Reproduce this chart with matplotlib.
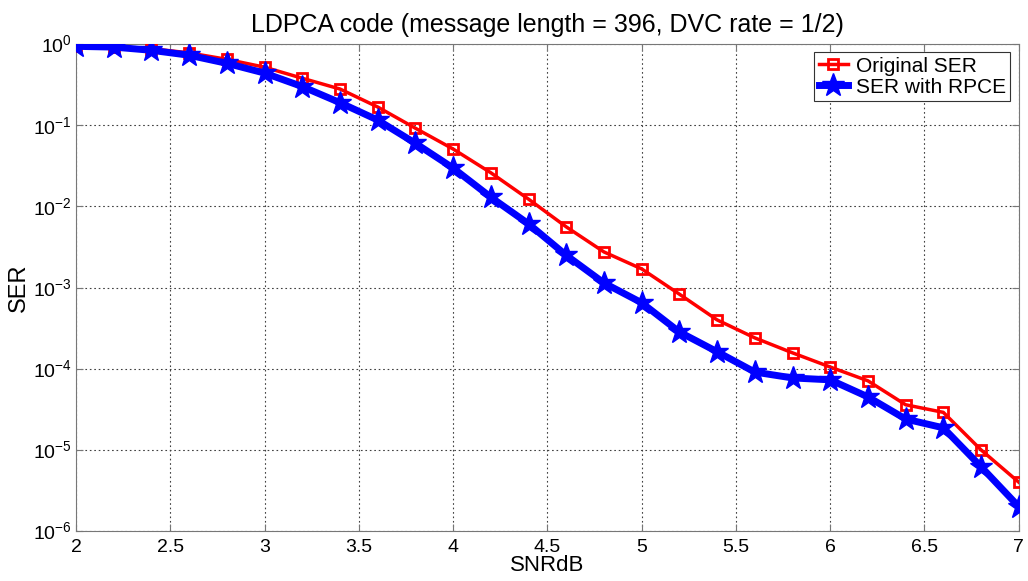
import matplotlib
matplotlib.use('Agg')
import matplotlib.pyplot as plt
from matplotlib.ticker import FixedLocator, NullLocator

snr_db = [2.0, 2.2, 2.4, 2.6, 2.8, 3.0, 3.2, 3.4, 3.6, 3.8, 4.0, 4.2, 4.4,
          4.6, 4.8, 5.0, 5.2, 5.4, 5.6, 5.8, 6.0, 6.2, 6.4, 6.6, 6.8, 7.0]
ser_original = [0.95, 0.93, 0.88, 0.78, 0.65, 0.52, 0.38, 0.28, 0.168, 0.092,
                0.051, 0.026, 0.0123, 0.0056, 0.00275, 0.0017, 0.00083, 0.0004,
                0.00024, 0.000157, 0.000105, 7.1e-5, 3.6e-5, 2.9e-5, 1.0e-5, 4.0e-6]
ser_rpce = [0.94, 0.92, 0.84, 0.73, 0.58, 0.44, 0.30, 0.19, 0.116, 0.060,
            0.0297, 0.013, 0.0061, 0.0025, 0.00114, 0.00065, 0.000284, 0.000162,
            9.1e-5, 7.7e-5, 7.3e-5, 4.5e-5, 2.4e-5, 1.87e-5, 6.2e-6, 2.0e-6]
x_ticks = [2, 2.5, 3, 3.5, 4, 4.5, 5, 5.5, 6, 6.5, 7]
x_tick_labels = ['2', '2.5', '3', '3.5', '4', '4.5', '5', '5.5', '6', '6.5', '7']
y_ticks = [1e-6, 1e-5, 1e-4, 1e-3, 1e-2, 1e-1, 1e0]
y_tick_labels = ['10$^{\\mathregular{-6}}$', '10$^{\\mathregular{-5}}$',
                 '10$^{\\mathregular{-4}}$', '10$^{\\mathregular{-3}}$',
                 '10$^{\\mathregular{-2}}$', '10$^{\\mathregular{-1}}$',
                 '10$^{\\mathregular{0}}$']

plt.rcParams['font.family'] = ['Liberation Sans', 'DejaVu Sans']
plt.rcParams['mathtext.fontset'] = 'custom'
plt.rcParams['mathtext.rm'] = 'Liberation Sans'

fig = plt.figure(figsize=(10.28, 5.81), dpi=100)
ax = fig.add_axes([0.074, 0.086, 0.917, 0.838])

ax.semilogy(snr_db, ser_original, color='#ff0000', linewidth=2.5, marker='s',
            markersize=7, markerfacecolor='none', markeredgewidth=2,
            label='Original SER', zorder=3)
ax.semilogy(snr_db, ser_rpce, color='#0000ff', linewidth=5, marker='*',
            markersize=17, label='SER with RPCE', zorder=4)

ax.set_xlim(2, 7)
ax.set_ylim(1e-6, 1)
ax.xaxis.set_major_locator(FixedLocator(x_ticks))
ax.set_xticklabels(x_tick_labels)
ax.yaxis.set_major_locator(FixedLocator(y_ticks))
ax.yaxis.set_minor_locator(NullLocator())
ax.set_yticklabels(y_tick_labels)
ax.tick_params(direction='in', labelsize=14, length=5, top=True, right=True,
               color='#777777')
ax.tick_params(axis='x', pad=6)
ax.tick_params(axis='y', pad=3)

ax.grid(True, which='major', linestyle=(0, (1.5, 2.5)), color='#404040', linewidth=0.8)
for spine in ax.spines.values():
    spine.set_color('#777777')

ax.set_title('LDPCA code (message length = 396, DVC rate = 1/2)', fontsize=18, pad=9)
ax.set_xlabel('SNRdB', fontsize=16, labelpad=-1)
ax.set_ylabel('SER', fontsize=17, labelpad=2)

leg = ax.legend(loc='upper right', fontsize=15, fancybox=False, framealpha=1,
                edgecolor='#333333', handlelength=1.4, handletextpad=0.4,
                borderpad=0.2, labelspacing=0.1, borderaxespad=0.4)
leg.get_frame().set_linewidth(0.8)

fig.savefig('out.png', dpi=100)
